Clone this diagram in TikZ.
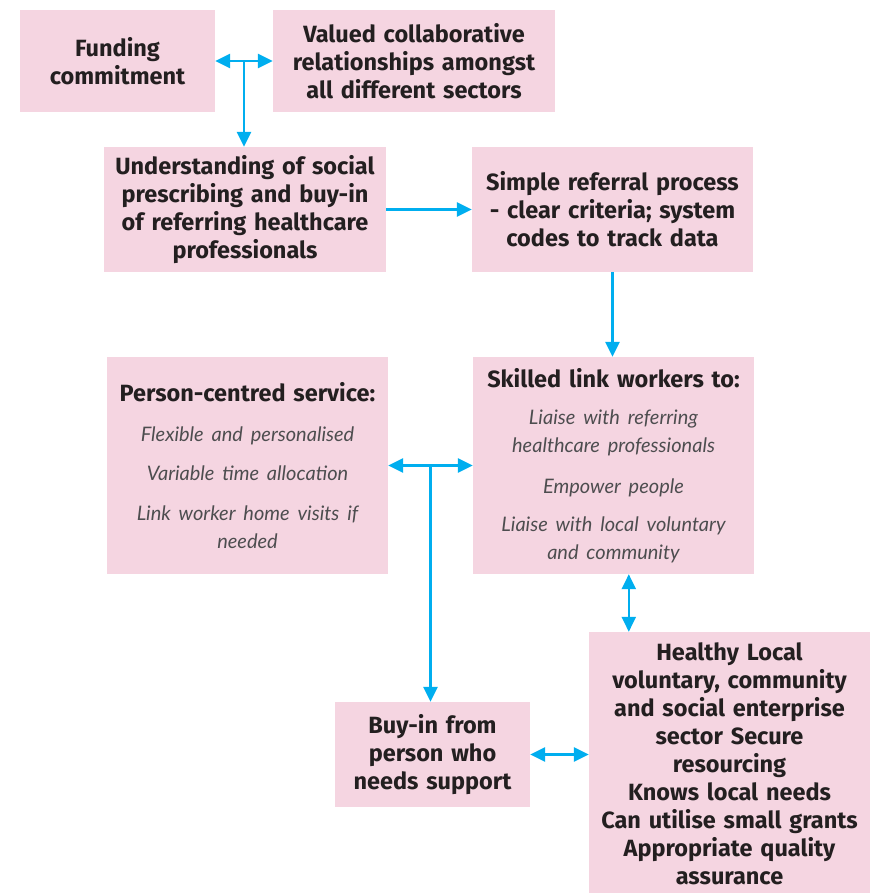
\documentclass[tikz,border=0pt]{standalone}
\usepackage{fontspec}
\setmainfont{Fira Sans}
\newfontfamily\itf{Lato}
\usetikzlibrary{arrows.meta,calc}
\definecolor{boxpink}{HTML}{F5D5E1}
\definecolor{arrowblue}{HTML}{00AEEF}
\definecolor{txt}{HTML}{231F20}
\definecolor{itxt}{HTML}{4D4D4F}
\begin{document}
\begin{tikzpicture}[x=1pt,y=-1pt,
 box/.style={fill=boxpink, draw=none, align=center, inner sep=0pt,
   font=\fontsize{23.5}{28}\selectfont\bfseries, text=txt},
 conn/.style={arrowblue, line width=2.6pt, -{Triangle[length=15pt,width=14pt]}},
 dconn/.style={arrowblue, line width=2.6pt, {Triangle[length=15pt,width=14pt]}-{Triangle[length=15pt,width=14pt]}}
]
\useasboundingbox (0,0) rectangle (874,893);
\node[box, minimum width=195pt, minimum height=102pt, text width=190pt] (fund) at (117.5,61) {Funding\\commitment};
\node[box, minimum width=282pt, minimum height=102pt, text width=278pt] (val) at (414,61) {Valued collaborative\\relationships amongst\\all different sectors};
\node[box, minimum width=282pt, minimum height=125pt, text width=278pt] (und) at (245,209.5) {Understanding of social\\prescribing and buy-in\\of referring healthcare\\professionals};
\node[box, minimum width=281pt, minimum height=125pt, text width=278pt] (simp) at (612.5,209.5) {Simple referral process\\- clear criteria; system\\codes to track data};
\node[box, minimum width=281pt, minimum height=217pt, text width=278pt] (pc) at (247.5,465.5) {Person-centred service:\\[12pt]
 {\itf\fontsize{20}{28}\selectfont\itshape\mdseries\color{itxt}Flexible and personalised\\[11pt]
 Variable time allocation\\[12pt]
 Link worker home visits if\\needed}};
\node[box, minimum width=281pt, minimum height=217pt, text width=278pt] (skill) at (613.5,465.5) {Skilled link workers to:\\[9pt]
 {\itf\fontsize{20}{28}\selectfont\itshape\mdseries\color{itxt}Liaise with referring\\healthcare professionals\\[13pt]
 Empower people\\[10pt]
 Liaise with local voluntary\\and community}};
\node[box, minimum width=195pt, minimum height=105pt, text width=190pt] (buy) at (432.5,754.5) {Buy-in from\\person who\\needs support};
\node[box, minimum width=281pt, minimum height=263pt, text width=278pt] (hl) at (729.5,763.5) {Healthy Local\\voluntary, community\\and social enterprise\\sector Secure\\resourcing\\Knows local needs\\Can utilise small grants\\Appropriate quality\\assurance};
% connectors
\draw[dconn] (fund) -- (val);
\coordinate (j1) at ($(fund.east)!0.5!(val.west)$);
\draw[conn] (j1) -- (j1 |- und.north);
\draw[conn] (und) -- (simp);
\draw[conn] (simp.south) -- (simp.south |- skill.north);
\draw[dconn] (pc) -- (skill);
\coordinate (j2) at ($(pc.east)!0.5!(skill.west)$);
\draw[conn] (j2) -- (j2 |- buy.north);
\path (hl.north west) ++(40,0) coordinate (h1);
\draw[dconn] (h1 |- skill.south) -- (h1);
\draw[dconn] (buy.east) -- (buy.east -| hl.west);
\end{tikzpicture}
\end{document}
